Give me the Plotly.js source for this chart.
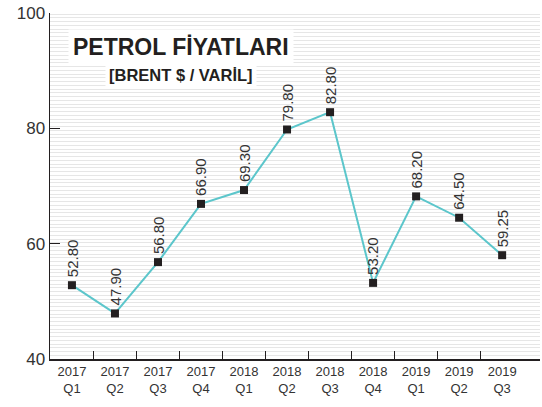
<!DOCTYPE html>
<html>
<head>
<meta charset="utf-8">
<script src="https://cdn.plot.ly/plotly-3.0.1.min.js"></script>
<style>html,body{margin:0;padding:0;background:#fff;}#chart{width:542px;height:407px;}</style>
</head>
<body>
<div id="chart"></div>
<script>
const categories = ["2017<br>Q1","2017<br>Q2","2017<br>Q3","2017<br>Q4","2018<br>Q1","2018<br>Q2","2018<br>Q3","2018<br>Q4","2019<br>Q1","2019<br>Q2","2019<br>Q3"];
const prices = [52.8, 47.9, 56.8, 66.9, 69.3, 79.8, 82.8, 53.2, 68.2, 64.5, 58.0];
const priceLabels = ["52.80","47.90","56.80","66.90","69.30","79.80","82.80","53.20","68.20","64.50","59.25"];
const yTicks = [40, 60, 80, 100];
const titleText = "PETROL FİYATLARI";
const subtitleText = "[BRENT $ / VARİL]";

const idx = categories.map((c, i) => i);
const boundaries = idx.slice(0, -1).map(i => i + 0.5);

const trace = {
  x: idx, y: prices, type: 'scatter', mode: 'lines+markers',
  line: {color: '#5cc6cb', width: 2},
  marker: {symbol: 'square', size: 8, color: '#231f20'},
  hoverinfo: 'skip', showlegend: false, cliponaxis: false
};
const tickTrace = {x: [0], y: [40], xaxis: 'x2', type: 'scatter', mode: 'markers', marker: {opacity: 0}, showlegend: false, hoverinfo: 'skip'};

const annotations = idx.map(i => ({
  x: i, y: prices[i], xref: 'x', yref: 'y', text: priceLabels[i], showarrow: false,
  textangle: -90, xanchor: 'center', yanchor: 'bottom', yshift: 6,
  font: {family: 'Liberation Sans, Arial, sans-serif', size: 15, color: '#333'}
}));
annotations.push({
  xref: 'paper', yref: 'paper', x: 0.267, y: 0.902, text: '<b>' + titleText + '</b>', showarrow: false,
  xanchor: 'center', yanchor: 'middle', bgcolor: '#fff', borderpad: 4,
  font: {family: 'Liberation Sans, Arial, sans-serif', size: 23, color: '#231f20'}
});
annotations.push({
  xref: 'paper', yref: 'paper', x: 0.267, y: 0.821, text: '<b>' + subtitleText + '</b>', showarrow: false,
  xanchor: 'center', yanchor: 'middle', bgcolor: '#fff', borderpad: 3,
  font: {family: 'Liberation Sans, Arial, sans-serif', size: 16.5, color: '#231f20'}
});

const xr = [-0.51, 10.88];
const layout = {
  width: 542, height: 407,
  margin: {l: 50, r: 2, t: 13, b: 48},
  paper_bgcolor: '#fff', plot_bgcolor: '#fff',
  xaxis: {
    range: xr, tickvals: idx, ticktext: categories, ticks: '', showgrid: false, zeroline: false,
    showline: true, linecolor: '#231f20', linewidth: 1.5,
    tickfont: {family: 'Liberation Sans, Arial, sans-serif', size: 13, color: '#333'}
  },
  xaxis2: {
    overlaying: 'x', range: xr, tickvals: boundaries, ticks: 'inside', ticklen: 8, tickwidth: 1,
    tickcolor: '#231f20', showticklabels: false, showgrid: false, zeroline: false, anchor: 'y', side: 'bottom'
  },
  yaxis: {
    range: [40, 100], tickvals: yTicks, ticks: 'inside', ticklen: 10, tickwidth: 1, tickcolor: '#231f20',
    showgrid: false, zeroline: false, showline: true, linecolor: '#231f20', linewidth: 1.5,
    tickfont: {family: 'Liberation Sans, Arial, sans-serif', size: 17, color: '#333'},
    minor: {dtick: 0.65, tick0: 40, showgrid: true, gridcolor: '#e6e6e6', gridwidth: 1, ticks: ''}
  },
  annotations: annotations
};
Plotly.newPlot('chart', [tickTrace, trace], layout, {staticPlot: true, displayModeBar: false});
</script>
</body>
</html>
